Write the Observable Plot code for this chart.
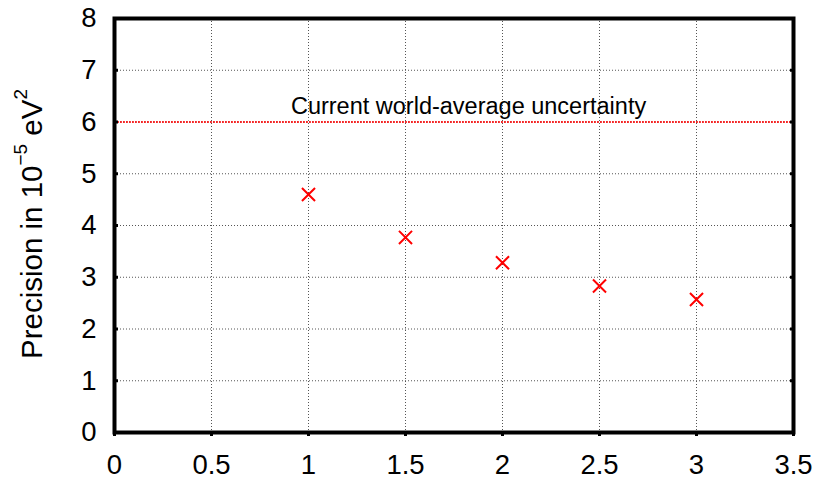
<!DOCTYPE html>
<html>
<head>
<meta charset="utf-8">
<script src="https://cdn.jsdelivr.net/npm/d3@7"></script>
<script src="https://cdn.jsdelivr.net/npm/@observablehq/plot@0.6"></script>
<style>
  html, body { margin: 0; padding: 0; background: #fff; }
  #chart svg { display: block; }
</style>
</head>
<body>
<div id="chart"></div>
<script>
// Projected precision against running time
const luminosity = [1, 1.5, 2, 2.5, 3];
const precision = [4.6, 3.77, 3.28, 2.83, 2.57];

// Reference level: current world-average uncertainty
const worldAverage = [6];
const worldAverageLabel = ["Current world-average uncertainty"];

// Axis ticks
const xTicks = [0, 0.5, 1, 1.5, 2, 2.5, 3, 3.5];
const yTicks = [0, 1, 2, 3, 4, 5, 6, 7, 8];

const points = luminosity.map((x, i) => ({x, y: precision[i]}));
const font = "'Liberation Sans', Arial, Helvetica, sans-serif";
const red = "#ff0000";

const chart = Plot.plot({
  width: 820,
  height: 481,
  marginLeft: 114,
  marginRight: 27,
  marginTop: 18,
  marginBottom: 49,
  style: {fontFamily: font, background: "#fff", color: "#000"},
  x: {domain: [0, 3.5], ticks: xTicks},
  y: {domain: [0, 8], ticks: yTicks},
  marks: [
    Plot.gridX(xTicks.slice(1, -1), {stroke: "#555", strokeOpacity: 1, strokeWidth: 1, strokeDasharray: "1,2"}),
    Plot.gridY(yTicks.slice(1, -1), {stroke: "#555", strokeOpacity: 1, strokeWidth: 1, strokeDasharray: "1,2"}),
    Plot.ruleY(worldAverage, {stroke: red, strokeWidth: 1.6, strokeDasharray: "2,1"}),
    Plot.text(worldAverageLabel, {
      x: 1.825, y: worldAverage[0], dy: -16,
      fontSize: 23.5, fill: "#000", textAnchor: "middle"
    }),
    Plot.dot(points, {x: "x", y: "y", symbol: "times", r: 6, stroke: red, strokeWidth: 2}),
    Plot.axisX(xTicks, {anchor: "bottom", tickSize: 4, strokeWidth: 3, tickPadding: 18, fontSize: 27.5, label: null, tickFormat: d => String(d)}),
    Plot.axisY(yTicks, {anchor: "left", tickSize: -4, strokeWidth: 3, tickPadding: 22, fontSize: 27.5, label: null, tickFormat: d => String(d)}),
    Plot.axisY(yTicks, {anchor: "right", tickSize: -4, strokeWidth: 3, label: null, tickFormat: () => ""}),
    Plot.frame({stroke: "#000", strokeWidth: 4})
  ]
});

// Y-axis title with superscripts
const svg = d3.select(chart);
const title = svg.append("text")
  .attr("transform", "translate(42,224) rotate(-90)")
  .attr("text-anchor", "middle")
  .attr("font-family", font)
  .attr("font-size", 29.5)
  .attr("fill", "#000");
title.append("tspan").text("Precision in 10");
title.append("tspan").attr("font-size", 19).attr("dy", -15).text("\u22125");
title.append("tspan").attr("dy", 15).text(" eV");
title.append("tspan").attr("font-size", 19).attr("dy", -15).text("2");

document.getElementById("chart").append(chart);
</script>
</body>
</html>
